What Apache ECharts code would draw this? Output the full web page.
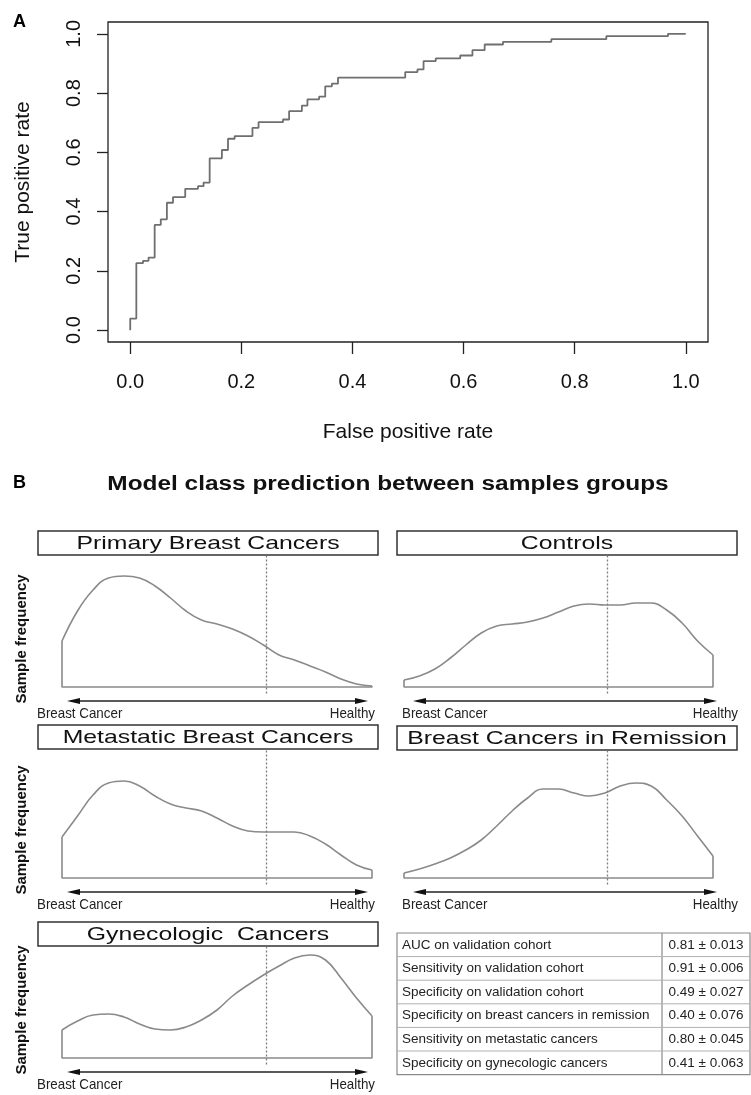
<!DOCTYPE html>
<html>
<head>
<meta charset="utf-8">
<title>ROC and class prediction</title>
<script src="https://cdn.jsdelivr.net/npm/echarts@6.0.0/dist/echarts.min.js"></script>
<style>
html, body { margin:0; padding:0; background:#fff; }
#main { width:751px; height:1095px; }
</style>
</head>
<body>
<div id="main"></div>
<script>
// ROC curve: corner points (top of each vertical step)
var fpr = [0, 0, 0.011, 0.023, 0.033, 0.044, 0.055, 0.066, 0.077, 0.099, 0.122, 0.132, 0.143, 0.165, 0.176, 0.188, 0.220, 0.231, 0.275, 0.286, 0.309, 0.319, 0.340, 0.351, 0.363, 0.374, 0.495, 0.517, 0.528, 0.550, 0.594, 0.616, 0.638, 0.671, 0.758, 0.857, 0.968, 1.0];
var tpr = [0, 0.039, 0.226, 0.234, 0.245, 0.355, 0.374, 0.430, 0.449, 0.477, 0.486, 0.498, 0.580, 0.608, 0.646, 0.655, 0.683, 0.702, 0.711, 0.739, 0.758, 0.779, 0.788, 0.823, 0.832, 0.852, 0.871, 0.880, 0.908, 0.917, 0.927, 0.945, 0.964, 0.973, 0.982, 0.992, 1.0, 1.0];
var rocTicks = [0, 0.2, 0.4, 0.6, 0.8, 1.0];

// density panels: score position (Breast Cancer -> Healthy) and sample frequency
var scoreX = [0, 0.05, 0.1, 0.15, 0.2, 0.25, 0.3, 0.35, 0.4, 0.45, 0.5, 0.55, 0.6, 0.65, 0.7, 0.75, 0.8, 0.85, 0.9, 0.95, 1];
var primaryBC   = [0.46, 0.76, 0.97, 1.09, 1.11, 1.09, 1.01, 0.89, 0.76, 0.67, 0.63, 0.58, 0.51, 0.42, 0.32, 0.27, 0.21, 0.15, 0.08, 0.03, 0.01];
var controls    = [0.07, 0.11, 0.18, 0.29, 0.42, 0.54, 0.61, 0.63, 0.65, 0.69, 0.75, 0.81, 0.83, 0.82, 0.82, 0.84, 0.84, 0.77, 0.64, 0.46, 0.32];
var metastatic  = [0.41, 0.62, 0.83, 0.95, 0.97, 0.92, 0.82, 0.74, 0.70, 0.67, 0.60, 0.52, 0.47, 0.46, 0.46, 0.46, 0.42, 0.34, 0.23, 0.13, 0.08];
var remission   = [0.05, 0.09, 0.14, 0.20, 0.28, 0.38, 0.52, 0.67, 0.80, 0.89, 0.89, 0.85, 0.82, 0.85, 0.92, 0.95, 0.92, 0.78, 0.62, 0.42, 0.22];
var gynecologic = [0.28, 0.37, 0.43, 0.44, 0.41, 0.34, 0.29, 0.28, 0.31, 0.38, 0.48, 0.62, 0.73, 0.83, 0.92, 1.00, 1.03, 0.98, 0.80, 0.60, 0.42];
var cutoff = 0.658;

var tableLabels = ['AUC on validation cohort', 'Sensitivity on validation cohort', 'Specificity on validation cohort',
  'Specificity on breast cancers in remission', 'Sensitivity on metastatic cancers', 'Specificity on gynecologic cancers'];
var tableValues = ['0.81 ± 0.013', '0.91 ± 0.006', '0.49 ± 0.027', '0.40 ± 0.076', '0.80 ± 0.045', '0.41 ± 0.063'];

var FONT = 'Liberation Sans, Arial, sans-serif';

// panel layout (pixels)
var panels = [
  {title:'Primary Breast Cancers',       vals:primaryBC,   x0:62,  x1:372, bx:[38,378],  hTop:531, base:687,  arrow:[67,368],  lbl:[37,375],  freq:true},
  {title:'Controls',                     vals:controls,    x0:404, x1:713, bx:[397,737], hTop:531, base:687,  arrow:[413,717], lbl:[402,738], freq:false},
  {title:'Metastatic Breast Cancers',    vals:metastatic,  x0:62,  x1:372, bx:[38,378],  hTop:725, base:878,  arrow:[67,368],  lbl:[37,375],  freq:true},
  {title:'Breast Cancers in Remission',  vals:remission,   x0:404, x1:713, bx:[397,737], hTop:726, base:878,  arrow:[413,717], lbl:[402,738], freq:false},
  {title:'Gynecologic  Cancers',         vals:gynecologic, x0:62,  x1:372, bx:[38,378],  hTop:922, base:1058, arrow:[67,368],  lbl:[37,375],  freq:true}
];
var headerH = 24, below = 18, arrowDy = 14;

var myChart = echarts.init(document.getElementById('main'));

var grids = [{left:108, top:22, width:600, height:320, show:true, borderColor:'#222', borderWidth:1.3, backgroundColor:'transparent'}];
var xAxes = [{
  gridIndex:0, type:'value', min:-0.04, max:1.04,
  axisLine:{show:false, onZero:false}, splitLine:{show:false},
  axisTick:{customValues:rocTicks, length:12, lineStyle:{color:'#222', width:1.3}},
  axisLabel:{customValues:rocTicks, fontSize:20, color:'#111', fontFamily:FONT, margin:30,
    formatter:function (v) { return v.toFixed(1); }},
  name:'False positive rate', nameLocation:'middle', nameGap:80,
  nameTextStyle:{fontSize:21, color:'#111', fontFamily:FONT}
}];
var yAxes = [{
  gridIndex:0, type:'value', min:-0.04, max:1.04,
  axisLine:{show:false, onZero:false}, splitLine:{show:false},
  axisTick:{customValues:rocTicks, length:11, lineStyle:{color:'#222', width:1.3}},
  axisLabel:{customValues:rocTicks, rotate:90, fontSize:20, color:'#111', fontFamily:FONT, margin:24,
    formatter:function (v) { return v.toFixed(1); }},
  name:'True positive rate', nameLocation:'middle', nameGap:74, nameRotate:90,
  nameTextStyle:{fontSize:21, color:'#111', fontFamily:FONT}
}];
var series = [{
  type:'line', xAxisIndex:0, yAxisIndex:0, step:'end', symbol:'none',
  data: fpr.map(function (x, i) { return [x, tpr[i]]; }),
  lineStyle:{color:'#6f6f6f', width:1.8}
}];

var graphic = [
  {type:'text', x:13, y:22, style:{text:'A', font:'bold 18px ' + FONT, fill:'#000', textVerticalAlign:'middle'}},
  {type:'text', x:13, y:483, style:{text:'B', font:'bold 18px ' + FONT, fill:'#000', textVerticalAlign:'middle'}},
  {type:'text', x:388, y:484, scaleX:1.22, style:{text:'Model class prediction between samples groups',
    font:'bold 20px ' + FONT, fill:'#111', textAlign:'center', textVerticalAlign:'middle'}}
];

panels.forEach(function (p, k) {
  var gi = k + 1;
  var ymax = (p.base - p.hTop - headerH) / 100;
  var ymin = -below / 100;
  grids.push({left:p.x0, width:p.x1 - p.x0, top:p.hTop + headerH, height:p.base - p.hTop - headerH + below});
  xAxes.push({gridIndex:gi, type:'value', min:0, max:1, show:false});
  yAxes.push({gridIndex:gi, type:'value', min:ymin, max:ymax, show:false});
  var v = p.vals;
  series.push({
    type:'line', xAxisIndex:gi, yAxisIndex:gi, smooth:0.45, symbol:'none',
    data: scoreX.map(function (x, i) { return [x, v[i]]; }),
    lineStyle:{color:'#8a8a8a', width:1.6},
    markLine:{silent:true, symbol:'none', animation:false, label:{show:false},
      lineStyle:{color:'#7d7d7d', type:[2, 2], width:1.3},
      data:[[{coord:[cutoff, -0.065]}, {coord:[cutoff, ymax]}]]}
  });
  series.push({
    type:'line', xAxisIndex:gi, yAxisIndex:gi, symbol:'none',
    data:[[0, v[0]], [0, 0], [1, 0], [1, v[v.length - 1]]],
    lineStyle:{color:'#8a8a8a', width:1.6}
  });
  // header box with title
  graphic.push({type:'rect', shape:{x:p.bx[0], y:p.hTop, width:p.bx[1] - p.bx[0], height:headerH},
    style:{fill:'#fff', stroke:'#333', lineWidth:1.5}});
  graphic.push({type:'text', x:(p.bx[0] + p.bx[1]) / 2, y:p.hTop + headerH / 2 + 1, scaleX:1.34,
    style:{text:p.title, font:'18.5px ' + FONT, fill:'#111', textAlign:'center', textVerticalAlign:'middle'}});
  // double-headed arrow under the baseline
  var ay = p.base + arrowDy, a0 = p.arrow[0], a1 = p.arrow[1];
  graphic.push({type:'line', shape:{x1:a0 + 8, y1:ay, x2:a1 - 8, y2:ay}, style:{stroke:'#222', lineWidth:1.3}});
  graphic.push({type:'polygon', shape:{points:[[a0, ay], [a0 + 13, ay - 3], [a0 + 13, ay + 3]]}, style:{fill:'#111'}});
  graphic.push({type:'polygon', shape:{points:[[a1, ay], [a1 - 13, ay - 3], [a1 - 13, ay + 3]]}, style:{fill:'#111'}});
  // axis end labels
  var ly = ay + 13;
  graphic.push({type:'text', x:p.lbl[0], y:ly, scaleX:0.89,
    style:{text:'Breast Cancer', font:'15px ' + FONT, fill:'#222', textVerticalAlign:'middle'}});
  graphic.push({type:'text', x:p.lbl[1], y:ly, scaleX:0.89,
    style:{text:'Healthy', font:'15px ' + FONT, fill:'#222', textAlign:'right', textVerticalAlign:'middle'}});
  if (p.freq) {
    graphic.push({type:'text', x:22, y:p.base - 48, rotation:Math.PI / 2,
      style:{text:'Sample frequency', font:'bold 15px ' + FONT, fill:'#111', textAlign:'center', textVerticalAlign:'middle'}});
  }
});

// metrics table
var tx0 = 397, tx1 = 662, tx2 = 750, ty0 = 933, rowH = 23.6;
graphic.push({type:'rect', shape:{x:tx0, y:ty0, width:tx2 - tx0, height:rowH * tableLabels.length},
  style:{fill:'#fff', stroke:'#8a8a8a', lineWidth:1.2}});
graphic.push({type:'line', shape:{x1:tx1, y1:ty0, x2:tx1, y2:ty0 + rowH * tableLabels.length},
  style:{stroke:'#8a8a8a', lineWidth:1.2}});
tableLabels.forEach(function (lab, i) {
  var yc = ty0 + rowH * (i + 0.5);
  if (i > 0) {
    graphic.push({type:'line', shape:{x1:tx0, y1:ty0 + rowH * i, x2:tx2, y2:ty0 + rowH * i},
      style:{stroke:'#b0b0b0', lineWidth:1}});
  }
  graphic.push({type:'text', x:tx0 + 5, y:yc, style:{text:lab, font:'13.5px ' + FONT, fill:'#222', textVerticalAlign:'middle'}});
  graphic.push({type:'text', x:(tx1 + tx2) / 2, y:yc, style:{text:tableValues[i], font:'13.5px ' + FONT, fill:'#222',
    textAlign:'center', textVerticalAlign:'middle'}});
});

var option = {
  animation:false,
  backgroundColor:'#fff',
  grid:grids,
  xAxis:xAxes,
  yAxis:yAxes,
  series:series,
  graphic:graphic
};
myChart.setOption(option);
</script>
</body>
</html>
